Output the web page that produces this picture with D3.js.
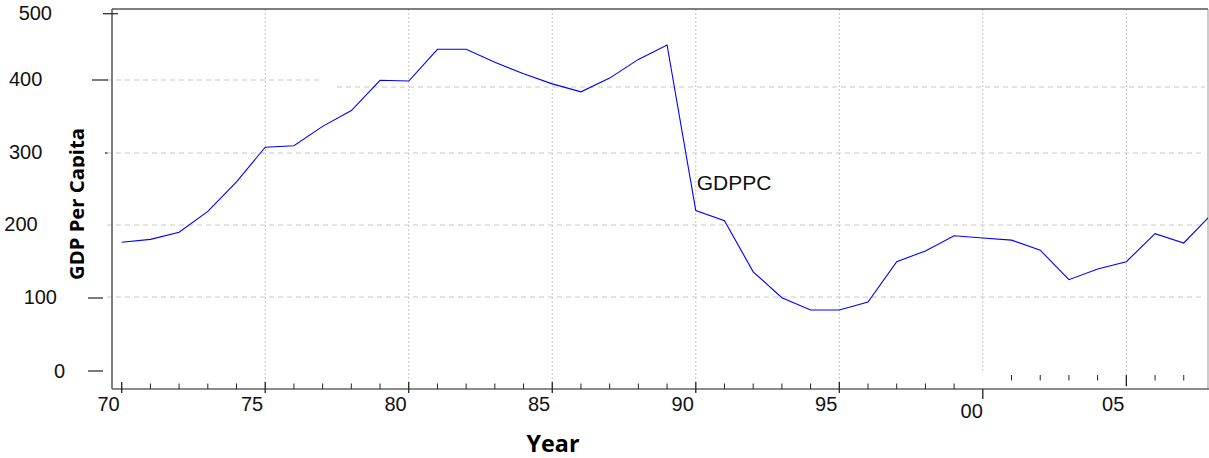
<!DOCTYPE html>
<html>
<head>
<meta charset="utf-8">
<script src="https://cdn.jsdelivr.net/npm/d3@7"></script>
<style>
    body { margin: 0; background: #fff; }
    svg { display: block; }
    .tick-label { font-family: "Liberation Sans", Arial, sans-serif; font-size: 20px; fill: #111; }
</style>
</head>
<body>
<div id="chart"></div>
<script>
// data
const years = [1970, 1971, 1972, 1973, 1974, 1975, 1976, 1977, 1978, 1979,
    1980, 1981, 1982, 1983, 1984, 1985, 1986, 1987, 1988, 1989,
    1990, 1991, 1992, 1993, 1994, 1995, 1996, 1997, 1998, 1999,
    2000, 2001, 2002, 2003, 2004, 2005, 2006, 2007, 2008];
const gdppc = [176, 180, 190, 219, 260, 308, 310, 337, 359, 401,
    400, 444, 444, 426, 410, 396, 385, 404, 430, 450,
    220, 206, 135, 99, 82, 82, 93, 149, 164, 185,
    182, 179, 165, 124, 139, 149, 188, 175, 216];
const majorYears = [1970, 1975, 1980, 1985, 1990, 1995, 2000, 2005];
const xTickLabels = ["70", "75", "80", "85", "90", "95", "00", "05"];
const yTicks = [0, 100, 200, 300, 400, 500];
const yTickLabels = ["0", "100", "200", "300", "400", "500"];
const seriesName = "GDPPC";

let width = 1209, height = 458;
let plot = {left: 112, right: 1208, top: 9, bottom: 389};

let svg = d3.select("#chart")
    .append("svg")
    .attr("width", width)
    .attr("height", height);

let x = d3.scaleLinear()
    .domain([1970, 1995])
    .range([121.7, 839.3]);

let y = d3.scaleLinear()
    .domain([0, 500])
    .range([369, 9]);

svg.append("clipPath").attr("id", "plotClip")
    .append("rect")
    .attr("x", plot.left).attr("y", plot.top)
    .attr("width", plot.right - plot.left).attr("height", plot.bottom - plot.top);

// horizontal dashed gridlines (the 400 one is broken and shifted, as in the original)
yTicks.filter(d => d > 0 && d < 500).forEach(function (d) {
    if (d === 400) {
        svg.append("line")
            .attr("x1", 107).attr("x2", 323)
            .attr("y1", y(d) - 1).attr("y2", y(d) - 1)
            .attr("stroke", "#c8c8c8").attr("stroke-dasharray", "5,4");
        svg.append("line")
            .attr("x1", 337).attr("x2", 1205)
            .attr("y1", y(d) + 6).attr("y2", y(d) + 6)
            .attr("stroke", "#c8c8c8").attr("stroke-dasharray", "5,4");
    } else {
        svg.append("line")
            .attr("x1", 107).attr("x2", 1205)
            .attr("y1", y(d)).attr("y2", y(d))
            .attr("stroke", "#c8c8c8").attr("stroke-dasharray", "5,4");
    }
});

// vertical dotted gridlines
svg.append("g")
    .selectAll("line")
    .data(majorYears.filter(d => d > 1970))
    .enter()
    .append("line")
    .attr("x1", d => x(d)).attr("x2", d => x(d))
    .attr("y1", plot.top)
    .attr("y2", d => d === 2000 ? 373 : plot.bottom)
    .attr("stroke", "#c4c4c4")
    .attr("stroke-dasharray", "2,2");

// frame
svg.append("line")
    .attr("x1", plot.left).attr("x2", plot.right)
    .attr("y1", plot.top).attr("y2", plot.top)
    .attr("stroke", "#555").attr("stroke-width", 1.5);
svg.append("line")
    .attr("x1", plot.right).attr("x2", plot.right)
    .attr("y1", plot.top).attr("y2", plot.bottom)
    .attr("stroke", "#999").attr("stroke-width", 1);
svg.append("line")
    .attr("x1", plot.left).attr("x2", plot.left)
    .attr("y1", plot.top).attr("y2", plot.bottom)
    .attr("stroke", "#555").attr("stroke-width", 1.5);
svg.append("line")
    .attr("x1", plot.left).attr("x2", width)
    .attr("y1", plot.bottom).attr("y2", plot.bottom)
    .attr("stroke", "#666").attr("stroke-width", 1.5);

// x ticks: minor every year, the ones after 2000 sit higher
let xTickYears = years.filter(d => d < 2008);
svg.append("g")
    .selectAll("line")
    .data(xTickYears)
    .enter()
    .append("line")
    .attr("x1", d => x(d)).attr("x2", d => x(d))
    .attr("y1", function (d) {
        if (d === 2000) return 389;
        if (d > 2000) return 375;
        return majorYears.includes(d) ? 382 : 383.5;
    })
    .attr("y2", function (d) {
        if (d === 2000) return 399;
        if (d === 2005) return 386;
        if (d > 2000) return 380.5;
        return majorYears.includes(d) ? 393 : 389;
    })
    .attr("stroke", "#222")
    .attr("stroke-width", d => majorYears.includes(d) ? 1.3 : 1);

svg.append("g")
    .selectAll("text")
    .data(majorYears)
    .enter()
    .append("text")
    .attr("class", "tick-label")
    .attr("text-anchor", "end")
    .attr("x", d => x(d) - (d === 2000 ? 0 : 2))
    .attr("y", d => d === 2000 ? 417.5 : 411)
    .text((d, i) => xTickLabels[i]);

// y ticks and labels, with the odd offsets of the original export
let yTickMarks = {0: [88, 103, 2], 100: [88, 103, 1], 300: [105, 107.5, 0], 400: [92, 108, -1], 500: [103, 118, 4.7]};
let yLabelRight = {0: 65, 100: 57, 200: 37.7, 300: 42.3, 400: 42.3, 500: 52};
let yLabelShift = {0: 1.5, 100: 0, 200: -1.5, 300: -1.3, 400: -2.7, 500: 3.7};

svg.append("g")
    .selectAll("line")
    .data(yTicks.filter(d => yTickMarks[d]))
    .enter()
    .append("line")
    .attr("x1", d => yTickMarks[d][0]).attr("x2", d => yTickMarks[d][1])
    .attr("y1", d => y(d) + yTickMarks[d][2]).attr("y2", d => y(d) + yTickMarks[d][2])
    .attr("stroke", "#333").attr("stroke-width", 1.3);

svg.append("g")
    .selectAll("text")
    .data(yTicks)
    .enter()
    .append("text")
    .attr("class", "tick-label")
    .attr("text-anchor", "end")
    .attr("x", d => yLabelRight[d])
    .attr("y", d => y(d) + yLabelShift[d] + 7.2)
    .text((d, i) => yTickLabels[i]);

// the series
let line = d3.line()
    .x((d, i) => x(years[i]))
    .y(d => y(d));

svg.append("path")
    .datum(gdppc)
    .attr("clip-path", "url(#plotClip)")
    .attr("d", line)
    .attr("fill", "none")
    .attr("stroke", "#0000ff")
    .attr("stroke-width", 1.1);

svg.append("text")
    .attr("x", x(1990) + 1)
    .attr("y", 190)
    .style("font-family", "Liberation Sans, Arial, sans-serif")
    .style("font-size", "21px")
    .style("fill", "#111")
    .text(seriesName);

// axis titles; the y title loses its descenders like in the original
svg.append("clipPath").attr("id", "ylabClip")
    .append("rect")
    .attr("x", 0).attr("y", 0).attr("width", 84.5).attr("height", height);

svg.append("g")
    .attr("clip-path", "url(#ylabClip)")
    .append("text")
    .attr("transform", "translate(84,280) rotate(-90)")
    .attr("textLength", 152)
    .attr("lengthAdjust", "spacingAndGlyphs")
    .style("font-family", "Open Sans, sans-serif")
    .style("font-weight", "bold")
    .style("font-size", "19px")
    .style("fill", "#000")
    .text("GDP Per Capita");

svg.append("text")
    .attr("x", 553)
    .attr("y", 452)
    .attr("text-anchor", "middle")
    .attr("textLength", 53)
    .attr("lengthAdjust", "spacingAndGlyphs")
    .style("font-family", "Open Sans, sans-serif")
    .style("font-weight", "bold")
    .style("font-size", "24px")
    .style("fill", "#000")
    .text("Year");
</script>
</body>
</html>
